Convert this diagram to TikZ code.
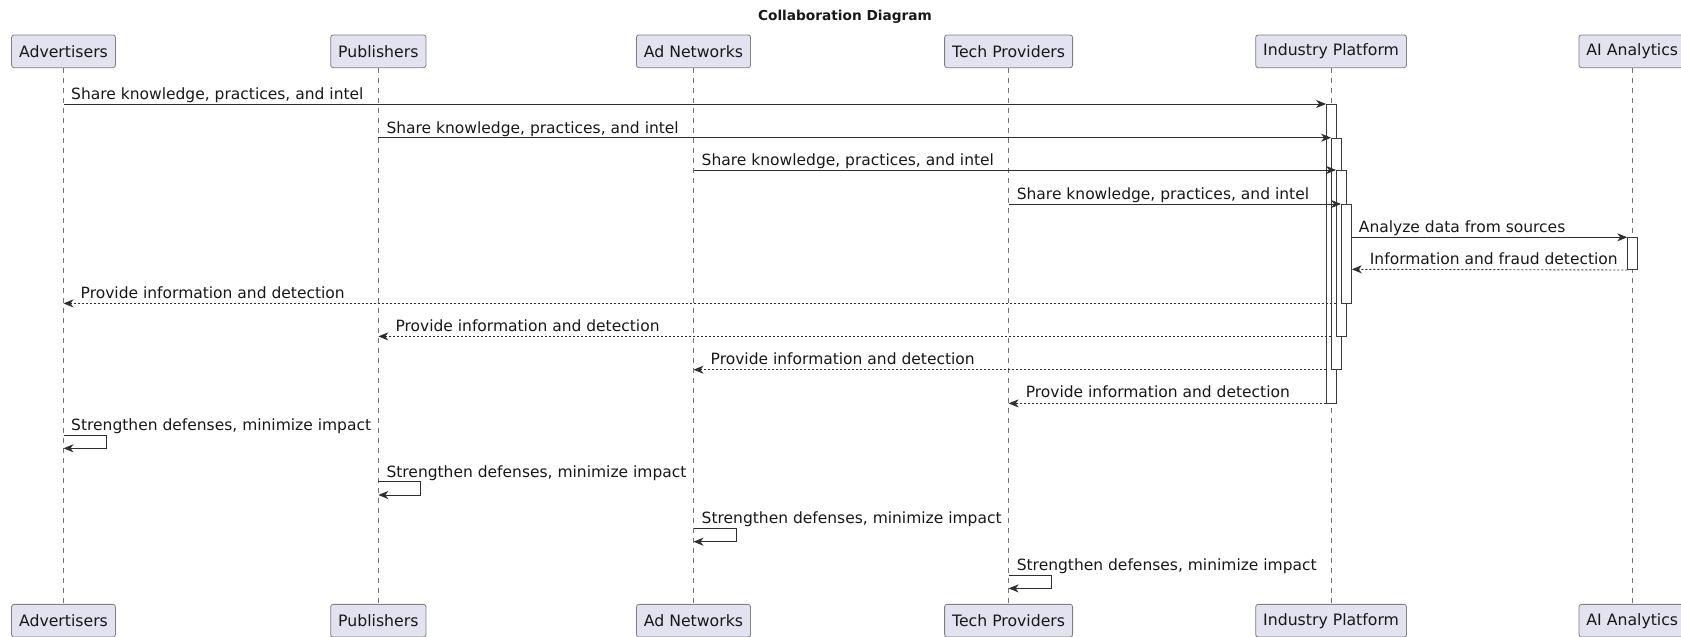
\documentclass[tikz,border=0pt]{standalone}
\usepackage{fontspec}
\setmainfont{DejaVu Sans}
\usetikzlibrary{arrows.meta}
\definecolor{ink}{HTML}{181818}
\definecolor{partfill}{HTML}{E2E2F0}
\begin{document}
\begin{tikzpicture}[x=1pt,y=-1pt,
  part/.style={draw=ink!55, line width=0.8pt, fill=partfill, rounded corners=2.5pt,
    minimum height=32.7pt, inner xsep=7.5pt, inner ysep=0pt,
    font=\fontsize{15.7}{18}\selectfont, text=ink},
  life/.style={draw=ink!60, line width=0.6pt, dash pattern=on 5pt off 5pt},
  msg/.style={draw=ink!90, line width=0.9pt, -{Stealth[length=10pt,width=8pt,inset=3pt]}},
  ret/.style={msg, dash pattern=on 2pt off 2pt},
  actbar/.style={draw=ink!85, line width=0.7pt, fill=white, minimum width=10pt,
    inner sep=0pt, anchor=north west},
  lbl/.style={font=\fontsize{15.5}{18}\selectfont, anchor=base west, inner sep=0pt, text=ink},
  ttl/.style={font=\bfseries\fontsize{13.7}{16}\selectfont, text=ink}]
\useasboundingbox (0,0) rectangle (1681,637);

% title
\node[ttl] (title) at (845,16.5) {Collaboration Diagram};

% participants, top and bottom
\node[part] (adv)  at (63.5,51.3)   {Advertisers};
\node[part] (pub)  at (378.3,51.3)  {Publishers};
\node[part] (net)  at (693.5,51.3)  {Ad Networks};
\node[part] (tech) at (1008.6,51.3) {Tech Providers};
\node[part] (ind)  at (1331.1,51.3) {Industry Platform};
\node[part] (ai)   at (1632.3,51.3) {AI Analytics};

\node[part] (advB)  at (63.5,620.7)   {Advertisers};
\node[part] (pubB)  at (378.3,620.7)  {Publishers};
\node[part] (netB)  at (693.5,620.7)  {Ad Networks};
\node[part] (techB) at (1008.6,620.7) {Tech Providers};
\node[part] (indB)  at (1331.1,620.7) {Industry Platform};
\node[part] (aiB)   at (1632.3,620.7) {AI Analytics};

% lifelines
\foreach \p in {adv,pub,net,tech,ind,ai}
  \draw[life] (\p.south) -- (\p B.north);

% activation bars
\node[actbar, minimum height=298.7pt] (b1) at (1326.1,104)   {};
\node[actbar, minimum height=231.3pt] (b2) at (1331.1,137.7) {};
\node[actbar, minimum height=165.7pt] (b3) at (1336.1,170)   {};
\node[actbar, minimum height=98.7pt]  (b4) at (1341.1,204)   {};
\node[actbar, minimum height=32pt]    (ba) at (1627.3,237.3) {};

% knowledge shared with the platform
\draw[msg] (adv  |- b1.north west) -- (b1.north west);
\draw[msg] (pub  |- b2.north west) -- (b2.north west);
\draw[msg] (net  |- b3.north west) -- (b3.north west);
\draw[msg] (tech |- b4.north west) -- (b4.north west);
\node[lbl] (m1) at (71,99.5)      {Share knowledge, practices, and intel};
\node[lbl] (m2) at (386.3,133.2) {Share knowledge, practices, and intel};
\node[lbl] (m3) at (701.5,165.5)   {Share knowledge, practices, and intel};
\node[lbl] (m4) at (1016.6,199.5)  {Share knowledge, practices, and intel};

% analysis round trip
\coordinate (q1) at (0,237.3);
\coordinate (q2) at (0,269.3);
\draw[msg] (b4.east |- q1) -- (ba.north west);
\draw[ret] (ba.south west) -- (b4.east |- q2);
\node[lbl] (m5) at (1358.7,232.8) {Analyze data from sources};
\node[lbl] (m6) at (1369.7,264.8) {Information and fraud detection};

% results returned to each party
\draw[ret] (b3.west |- b4.south) -- (adv  |- b4.south);
\draw[ret] (b2.west |- b3.south) -- (pub  |- b3.south);
\draw[ret] (b1.west |- b2.south) -- (net  |- b2.south);
\draw[ret] (b1.south west)       -- (tech |- b1.south);
\node[lbl] (m7)  at (80.5,298.2)   {Provide information and detection};
\node[lbl] (m8)  at (395.3,331.2)  {Provide information and detection};
\node[lbl] (m9)  at (710.5,364.5)    {Provide information and detection};
\node[lbl] (m10) at (1025.6,397.8) {Provide information and detection};

% self messages
\coordinate (s1) at (0,435);   \coordinate (e1) at (0,448.3);
\coordinate (s2) at (0,481.7); \coordinate (e2) at (0,495);
\coordinate (s3) at (0,528.4); \coordinate (e3) at (0,541.7);
\coordinate (s4) at (0,575.1); \coordinate (e4) at (0,588.4);
\draw[msg] (adv  |- s1) -- ++(42.5,0) |- (adv  |- e1);
\draw[msg] (pub  |- s2) -- ++(42.5,0) |- (pub  |- e2);
\draw[msg] (net  |- s3) -- ++(42.5,0) |- (net  |- e3);
\draw[msg] (tech |- s4) -- ++(42.5,0) |- (tech |- e4);
\node[lbl] (m11) at (71,430.5)     {Strengthen defenses, minimize impact};
\node[lbl] (m12) at (386.3,477.2) {Strengthen defenses, minimize impact};
\node[lbl] (m13) at (701.5,523.9) {Strengthen defenses, minimize impact};
\node[lbl] (m14) at (1016.6,570.6) {Strengthen defenses, minimize impact};
\end{tikzpicture}
\end{document}
